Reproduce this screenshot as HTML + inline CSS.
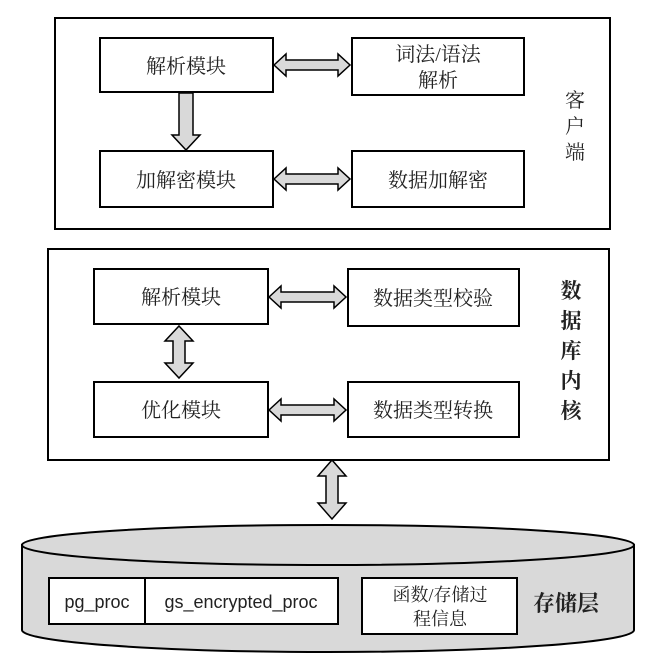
<!DOCTYPE html>
<html><head><meta charset="utf-8"><style>
html,body{margin:0;padding:0;background:#fff;}
svg{display:block;}
text{font-family:"Liberation Serif","Noto Serif CJK SC","Noto Sans CJK SC",serif;font-size:20px;fill:#222;}
.s{font-family:"Liberation Sans","Noto Sans CJK SC",sans-serif;}
</style></head><body>
<svg width="645" height="667" viewBox="0 0 645 667" xmlns="http://www.w3.org/2000/svg">
<g fill="none" stroke="#000" stroke-width="2">
<rect x="55" y="18" width="555" height="211"/>
<rect x="100" y="38" width="173" height="54" fill="#fff"/>
<rect x="352" y="38" width="172" height="57" fill="#fff"/>
<rect x="100" y="151" width="173" height="56" fill="#fff"/>
<rect x="352" y="151" width="172" height="56" fill="#fff"/>
<rect x="48" y="249" width="561" height="211"/>
<rect x="94" y="269" width="174" height="55" fill="#fff"/>
<rect x="348" y="269" width="171" height="57" fill="#fff"/>
<rect x="94" y="382" width="174" height="55" fill="#fff"/>
<rect x="348" y="382" width="171" height="55" fill="#fff"/>
</g>
<g fill="#d9d9d9" stroke="#000" stroke-width="1.5">
<!-- horizontal double arrows -->
<path d="M274 65 L286 54 L286 60 L338 60 L338 54 L350 65 L338 76 L338 70 L286 70 L286 76 Z"/>
<path d="M274 179 L286 168 L286 174 L338 174 L338 168 L350 179 L338 190 L338 184 L286 184 L286 190 Z"/>
<path d="M269 297 L281 286 L281 292 L334 292 L334 286 L346 297 L334 308 L334 302 L281 302 L281 308 Z"/>
<path d="M269 410 L281 399 L281 405 L334 405 L334 399 L346 410 L334 421 L334 415 L281 415 L281 421 Z"/>
<!-- down arrow -->
<path d="M179 93 L193 93 L193 135 L200 135 L186 150 L172 135 L179 135 Z"/>
<!-- vertical double arrows -->
<path d="M179 326 L193 341 L185 341 L185 363 L193 363 L179 378 L165 363 L173 363 L173 341 L165 341 Z"/>
<path d="M332 460 L346 476 L338 476 L338 503 L346 503 L332 519 L318 503 L326 503 L326 476 L318 476 Z"/>
</g>
<!-- cylinder -->
<path d="M22 545 L22 630 A306 22 0 0 0 634 630 L634 545 Z" fill="#d9d9d9" stroke="#000" stroke-width="2"/>
<ellipse cx="328" cy="545" rx="306" ry="20" fill="#d9d9d9" stroke="#000" stroke-width="2"/>
<g fill="#fff" stroke="#000" stroke-width="2">
<rect x="49" y="578" width="289" height="46"/>
<line x1="145" y1="578" x2="145" y2="624"/>
<rect x="362" y="578" width="155" height="56"/>
</g>
<g text-anchor="middle">
<text x="186" y="73">解析模块</text>
<text x="438" y="61">词法/语法</text>
<text x="438" y="87">解析</text>
<text x="186" y="187">加解密模块</text>
<text x="438" y="187">数据加解密</text>
<text x="575" y="107">客</text>
<text x="575" y="133">户</text>
<text x="575" y="159">端</text>
<text x="181" y="304">解析模块</text>
<text x="433" y="305">数据类型校验</text>
<text x="181" y="417">优化模块</text>
<text x="433" y="417">数据类型转换</text>
<g font-weight="bold" style="font-size:21px">
<text x="571" y="298" style="font-size:21px;font-weight:bold">数</text>
<text x="571" y="328" style="font-size:21px;font-weight:bold">据</text>
<text x="571" y="358" style="font-size:21px;font-weight:bold">库</text>
<text x="571" y="388" style="font-size:21px;font-weight:bold">内</text>
<text x="571" y="418" style="font-size:21px;font-weight:bold">核</text>
</g>
<text class="s" x="97" y="608" style="font-size:18px">pg_proc</text>
<text class="s" x="241" y="608" style="font-size:18px">gs_encrypted_proc</text>
<text x="440" y="601" style="font-size:18px">函数/存储过</text>
<text x="440" y="625" style="font-size:18px">程信息</text>
<text x="566" y="611" style="font-size:22px;font-weight:bold">存储层</text>
</g>
</svg>
</body></html>
